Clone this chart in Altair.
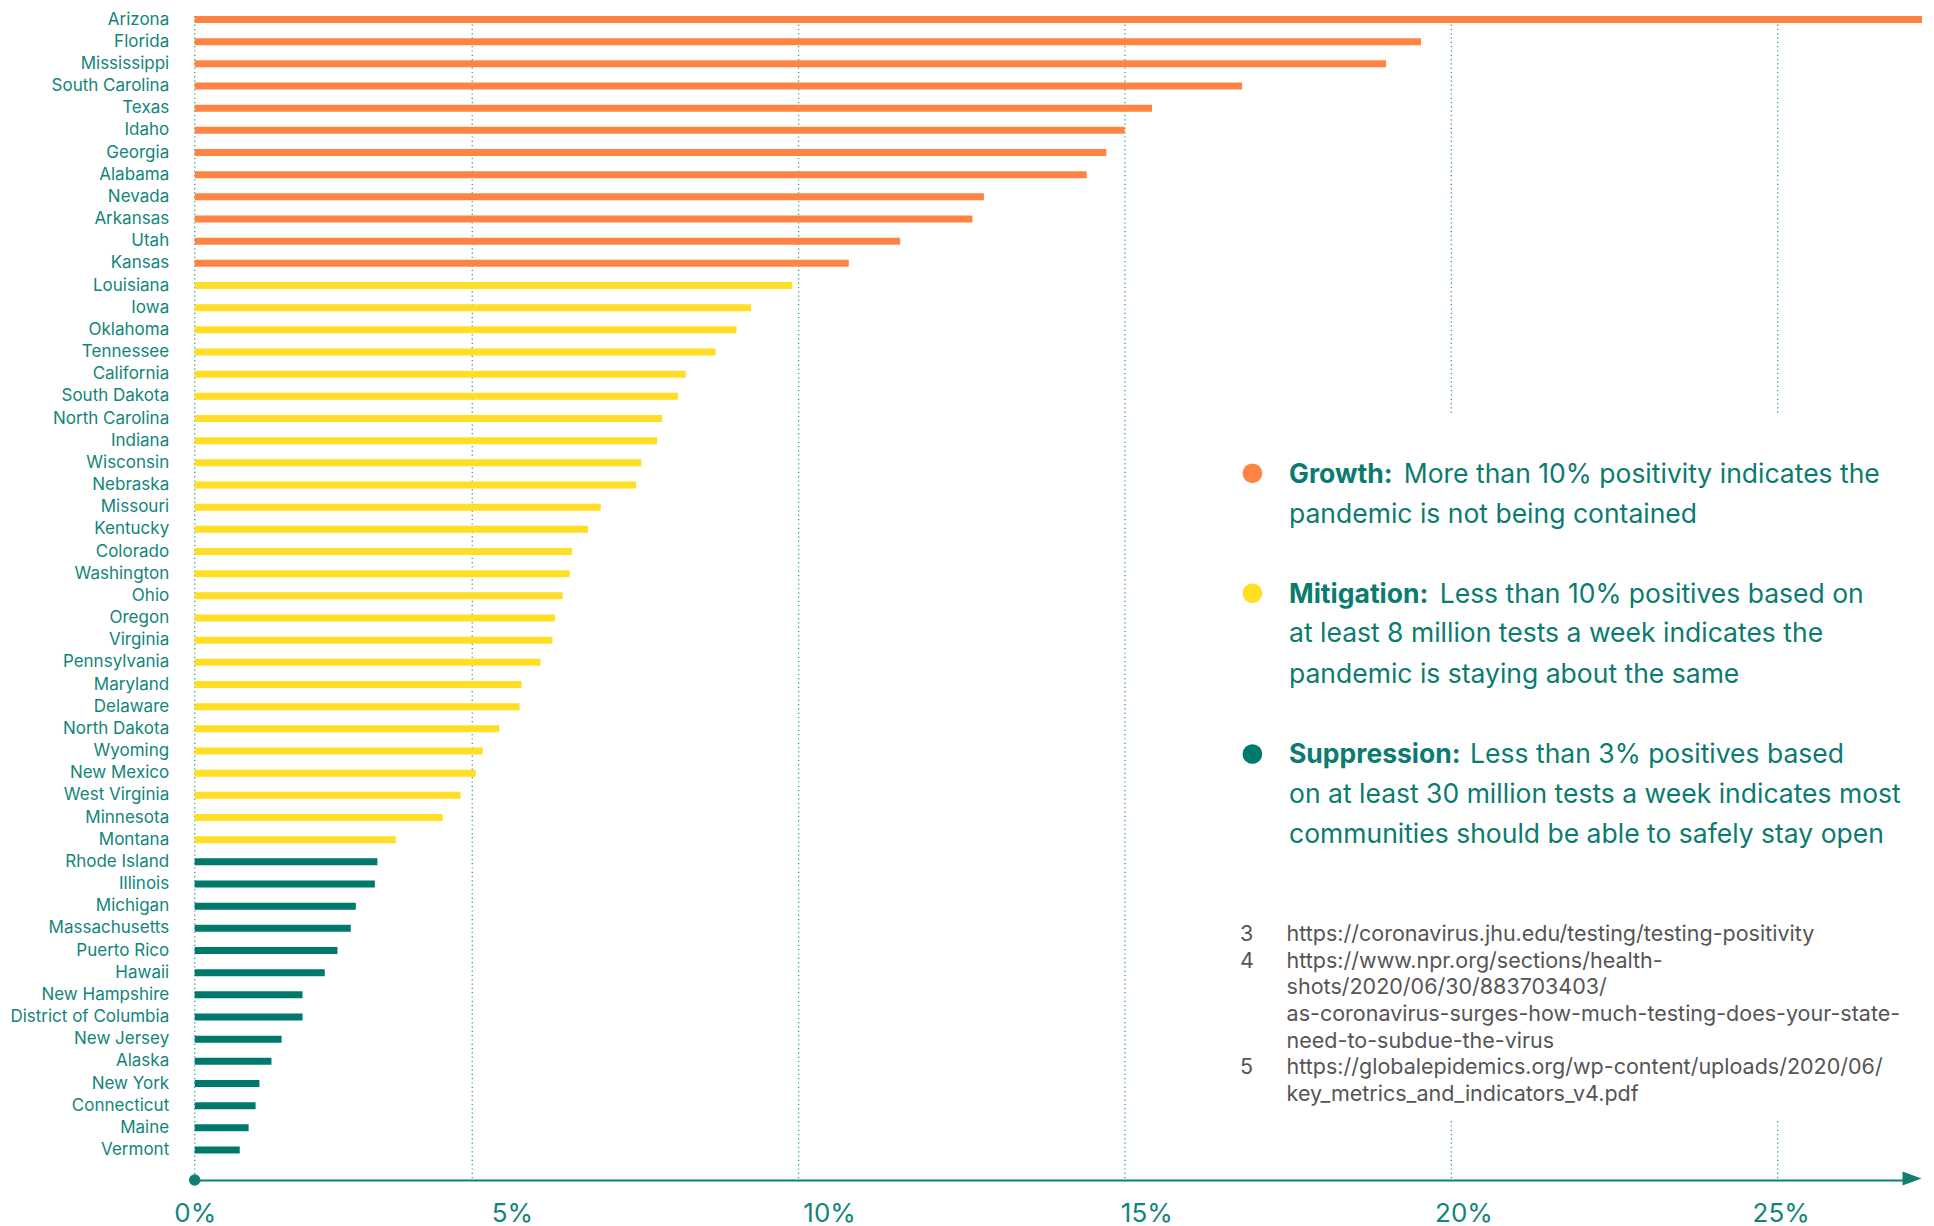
import altair as alt
import pandas as pd

# ---------------- data ----------------
states = [
    "Arizona", "Florida", "Mississippi", "South Carolina", "Texas", "Idaho",
    "Georgia", "Alabama", "Nevada", "Arkansas", "Utah", "Kansas",
    "Louisiana", "Iowa", "Oklahoma", "Tennessee", "California", "South Dakota",
    "North Carolina", "Indiana", "Wisconsin", "Nebraska", "Missouri", "Kentucky",
    "Colorado", "Washington", "Ohio", "Oregon", "Virginia", "Pennsylvania",
    "Maryland", "Delaware", "North Dakota", "Wyoming", "New Mexico",
    "West Virginia", "Minnesota", "Montana",
    "Rhode Island", "Illinois", "Michigan", "Massachusetts", "Puerto Rico",
    "Hawaii", "New Hampshire", "District of Columbia", "New Jersey", "Alaska",
    "New York", "Connecticut", "Maine", "Vermont",
]
positivity = [
    27.23, 19.33, 18.78, 16.51, 15.09, 14.66,
    14.37, 14.06, 12.44, 12.26, 11.12, 10.31,
    9.42, 8.77, 8.54, 8.21, 7.74, 7.62,
    7.37, 7.29, 7.04, 6.96, 6.40, 6.20,
    5.95, 5.91, 5.80, 5.68, 5.64, 5.45,
    5.15, 5.12, 4.80, 4.54, 4.43,
    4.19, 3.91, 3.17,
    2.88, 2.84, 2.54, 2.46, 2.25,
    2.05, 1.70, 1.70, 1.37, 1.21,
    1.02, 0.96, 0.85, 0.71,
]
phase = ["Growth"] * 12 + ["Mitigation"] * 26 + ["Suppression"] * 14

phases = ["Growth", "Mitigation", "Suppression"]
phase_colors = ["#FF8443", "#FFDE23", "#00796D"]

tick_values = [0, 5, 10, 15, 20, 25]
grid_values = [5, 10, 15, 20, 25]
axis_start = [0]

legend_bold = ["Growth:", "Mitigation:", "Suppression:"]
legend_lines = [
    ["More than 10% positivity indicates the",
     "pandemic is not being contained"],
    ["Less than 10% positives based on",
     "at least 8 million tests a week indicates the",
     "pandemic is staying about the same"],
    ["Less than 3% positives based",
     "on at least 30 million tests a week indicates most",
     "communities should be able to safely stay open"],
]
footnote_numbers = ["3", "4", "5"]
footnote_lines = [
    ["https://coronavirus.jhu.edu/testing/testing-positivity"],
    ["https://www.npr.org/sections/health-",
     "shots/2020/06/30/883703403/",
     "as-coronavirus-surges-how-much-testing-does-your-state-",
     "need-to-subdue-the-virus"],
    ["https://globalepidemics.org/wp-content/uploads/2020/06/",
     "key_metrics_and_indicators_v4.pdf"],
]

df = pd.DataFrame({"state": states, "value": positivity, "phase": phase})

# ---------------- layout ----------------
FONT = "Inter"
TEAL_TEXT = "#12857A"
TEAL_LINE = "#137F73"
LEGEND_TEXT = "#0B7B6F"
NOTE_TEXT = "#555555"
XMAX = 27.07
W = 1717.3
H = 1164.0
DY = 2.2  # shift of annotation y positions relative to plot top

xscale = alt.Scale(domain=[0, XMAX], nice=False, zero=False)
grid_scale = alt.Scale(domain=[0.748, 27.058], nice=False, zero=False)

# dotted grid (own scale, as in the original artwork)
grid = alt.Chart(pd.DataFrame({"g": grid_values})).mark_rule(
    color="#2B9A8D", strokeWidth=1.3, strokeDash=[1.2, 3.1]
).encode(x=alt.X("g:Q", scale=grid_scale, axis=None))

zero_rule = alt.Chart(pd.DataFrame({"z": axis_start})).mark_rule(
    color="#2B9A8D", strokeWidth=1.3, strokeDash=[1.2, 3.1]
).encode(x=alt.X("z:Q", scale=xscale, axis=None))

# white panel behind the legend / notes
panel = alt.Chart(pd.DataFrame({"a": [0]})).mark_rect(color="white").encode(
    x=alt.value(1035), x2=alt.value(1739), y=alt.value(402 - DY), y2=alt.value(1105 - DY)
)

bars = alt.Chart(df).mark_bar().encode(
    x=alt.X(
        "value:Q",
        scale=xscale,
        axis=alt.Axis(
            values=tick_values,
            labelExpr="datum.value + '%'",
            title=None,
            grid=False,
            ticks=False,
            domain=True,
            domainColor=TEAL_LINE,
            domainWidth=2,
            labelFont=FONT,
            labelFontSize=26,
            labelColor=TEAL_TEXT,
            labelPadding=33,
            labelBaseline="middle",
            labelFlush=False,
        ),
    ),
    y=alt.Y(
        "state:N",
        sort=None,
        scale=alt.Scale(paddingInner=0.6842, paddingOuter=0.597, align=0, round=False),
        axis=alt.Axis(
            title=None,
            ticks=False,
            domain=False,
            grid=False,
            labelFont=FONT,
            labelFontSize=17,
            labelColor=TEAL_TEXT,
            labelPadding=26,
        ),
    ),
    color=alt.Color("phase:N", scale=alt.Scale(domain=phases, range=phase_colors), legend=None),
)

dot = alt.Chart(pd.DataFrame({"z": axis_start})).mark_point(
    filled=True, shape="circle", size=135, color=TEAL_LINE, opacity=1
).encode(x=alt.X("z:Q", scale=xscale, axis=None), y=alt.value(H))

arrow = alt.Chart(pd.DataFrame({"e": [XMAX]})).mark_point(
    filled=True, shape="M-1,-0.74L1,0L-1,0.74Z", size=361, color=TEAL_LINE, opacity=1
).encode(x=alt.X("e:Q", scale=xscale, axis=None), y=alt.value(H - 1.5))

layers = [grid, zero_rule, panel, bars, dot, arrow]


def text_layer(txt, x, y, size, color, weight="normal", align="left"):
    return alt.Chart(pd.DataFrame({"t": [txt]})).mark_text(
        font=FONT, fontSize=size, color=color, fontWeight=weight,
        align=align, baseline="middle"
    ).encode(text="t:N", x=alt.value(x), y=alt.value(y - DY))


# legend
circle_x = 1057.7
circle_y = [459.5, 579.5, 740.2]
text_x = 1094.3
join_x = [1209.0, 1245.0, 1275.4]
line_y = [[461.2, 500.7], [580.7, 620.2, 660.7], [741.2, 780.7, 821.2]]

for i, p in enumerate(phases):
    layers.append(
        alt.Chart(pd.DataFrame({"p": [p]})).mark_circle(size=390, opacity=1).encode(
            x=alt.value(circle_x), y=alt.value(circle_y[i] - DY),
            color=alt.Color("p:N", scale=alt.Scale(domain=phases, range=phase_colors), legend=None),
        )
    )
    layers.append(text_layer(legend_bold[i], text_x, line_y[i][0], 26.5, LEGEND_TEXT, "bold"))
    for j, ln in enumerate(legend_lines[i]):
        lx = join_x[i] if j == 0 else text_x
        layers.append(text_layer(ln, lx, line_y[i][j], 26.5, LEGEND_TEXT))

# footnotes
note_num_x = 1045.3
note_x = 1091.9
note_y0 = 921.2
note_step = 26.67
k = 0
for i, num in enumerate(footnote_numbers):
    layers.append(text_layer(num, note_num_x, note_y0 + k * note_step, 21.5, NOTE_TEXT))
    for ln in footnote_lines[i]:
        layers.append(text_layer(ln, note_x, note_y0 + k * note_step, 21.5, NOTE_TEXT))
        k += 1

chart = alt.layer(*layers).resolve_scale(x="independent", color="independent").properties(
    width=W,
    height=H,
    padding={"left": 186.7, "top": 8, "right": 10, "bottom": 46},
    autosize=alt.AutoSizeParams(type="none"),
).configure_view(stroke=None).configure_axis(grid=False)

chart.save("out.html", embed_options={"renderer": "svg", "actions": False})
